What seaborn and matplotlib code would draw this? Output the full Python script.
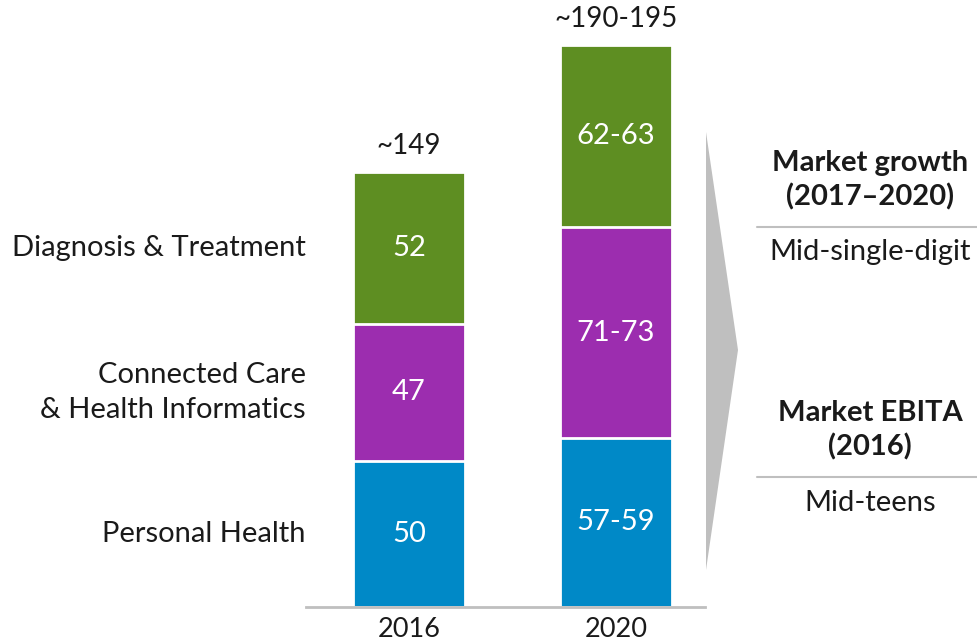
import matplotlib
matplotlib.use("Agg")
import matplotlib.pyplot as plt
import seaborn as sns
import pandas as pd
from matplotlib.patches import Polygon
from matplotlib.lines import Line2D

# ---- data ----
years = ["2016", "2020"]
segments = ["Personal Health", "Connected Care\n& Health Informatics", "Diagnosis & Treatment"]
personal = [50, 58]
connected = [47, 72]
diagnosis = [52, 62.5]
personal_labels = ["50", "57-59"]
connected_labels = ["47", "71-73"]
diagnosis_labels = ["52", "62-63"]
total_labels = ["~149", "~190-195"]

colors = {"personal": "#0089C7", "connected": "#9C2DAF", "diagnosis": "#5E8E22"}

sns.set_theme(style="white")
plt.rcParams["font.family"] = ["Lato", "DejaVu Sans"]

W, H = 977, 643
fig = plt.figure(figsize=(W / 100, H / 100), dpi=100)

# axes placement in pixels
px_per_cat = 207
left_px = 409 - 0.5 * px_per_cat
xmin, xmax = -0.5, 1.43
ymax = 200
px_per_unit = 2.92
bottom_px = 607
ax = fig.add_axes([left_px / W, (H - bottom_px) / H,
                   (xmax - xmin) * px_per_cat / W, ymax * px_per_unit / H])

df = pd.DataFrame({"year": years, "p": personal, "c": connected, "d": diagnosis})
df["pc"] = df["p"] + df["c"]
df["pcd"] = df["pc"] + df["d"]

bw = 112 / px_per_cat
for col, key in [("pcd", "diagnosis"), ("pc", "connected"), ("p", "personal")]:
    sns.barplot(data=df, x="year", y=col, color=colors[key], saturation=1,
                width=bw, edgecolor="white", linewidth=2, ax=ax, errorbar=None)

ax.set_xlim(xmin, xmax)
ax.set_ylim(0, ymax)
ax.set_xlabel("")
ax.set_ylabel("")
ax.set_yticks([])
for s in ["left", "right", "top"]:
    ax.spines[s].set_visible(False)
ax.spines["bottom"].set_color("#BFBFBF")
ax.spines["bottom"].set_linewidth(2)
ax.tick_params(axis="x", length=0, labelsize=19.5, pad=7, labelcolor="#1a1a1a")

fs = 21
for i in range(len(years)):
    p, c, d = personal[i], connected[i], diagnosis[i]
    ax.text(i, p / 2, personal_labels[i], color="white", ha="center", va="center", fontsize=fs)
    ax.text(i, p + c / 2, connected_labels[i], color="white", ha="center", va="center", fontsize=fs)
    ax.text(i, p + c + d / 2, diagnosis_labels[i], color="white", ha="center", va="center", fontsize=fs)
    ax.text(i, p + c + d + 9, total_labels[i], color="#1a1a1a", ha="center", va="center",
            fontsize=20, clip_on=False)

# segment labels at 2016 segment midpoints
seg_mid = [personal[0] / 2, personal[0] + connected[0] / 2,
           personal[0] + connected[0] + diagnosis[0] / 2]
for name, ym in zip(segments, seg_mid):
    ax.text(-0.5, ym, name, ha="right", va="center", fontsize=fs, color="#1a1a1a",
            linespacing=1.45, clip_on=False)

# right-hand chevron and notes (figure pixel coords)
def fx(x):
    return x / W

def fy(y):
    return 1 - y / H

chev = Polygon([(fx(706), fy(132)), (fx(738), fy(350)), (fx(706), fy(570))],
               closed=True, transform=fig.transFigure, facecolor="#BFBFBF", edgecolor="none")
fig.patches.append(chev)

cx = 870
fig.text(fx(cx), fy(163), "Market growth", ha="center", va="center", fontsize=fs, fontweight="bold", color="#1a1a1a")
fig.text(fx(cx), fy(197), "(2017\u20132020)", ha="center", va="center", fontsize=fs, fontweight="bold", color="#1a1a1a")
fig.lines.append(Line2D([fx(757), fx(977)], [fy(227), fy(227)], transform=fig.transFigure, color="#BFBFBF", lw=1.5))
fig.text(fx(cx), fy(252), "Mid-single-digit", ha="center", va="center", fontsize=fs, color="#1a1a1a")

fig.text(fx(cx), fy(413), "Market EBITA", ha="center", va="center", fontsize=fs, fontweight="bold", color="#1a1a1a")
fig.text(fx(cx), fy(447), "(2016)", ha="center", va="center", fontsize=fs, fontweight="bold", color="#1a1a1a")
fig.lines.append(Line2D([fx(757), fx(977)], [fy(477), fy(477)], transform=fig.transFigure, color="#BFBFBF", lw=1.5))
fig.text(fx(cx), fy(503), "Mid-teens", ha="center", va="center", fontsize=fs, color="#1a1a1a")

fig.savefig("out.png", dpi=100)
